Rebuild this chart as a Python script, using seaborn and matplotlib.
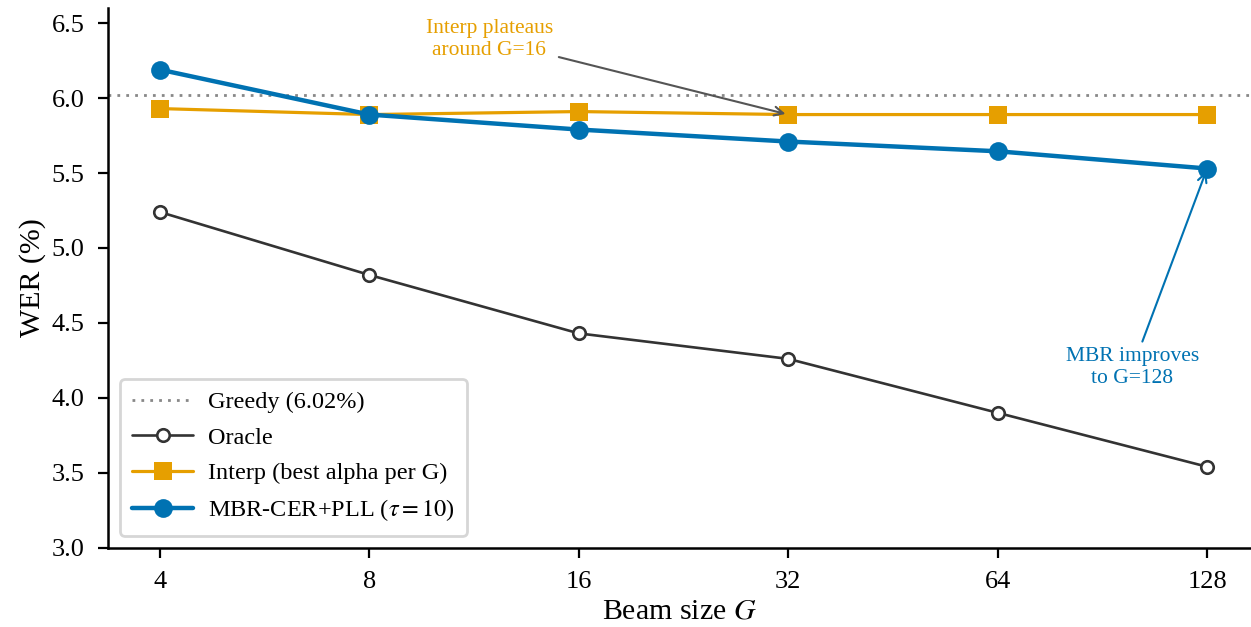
import numpy as np
import pandas as pd
import matplotlib
matplotlib.use("Agg")
import matplotlib.pyplot as plt
import seaborn as sns

# values
beam = [4, 8, 16, 32, 64, 128]
oracle = [5.24, 4.82, 4.43, 4.26, 3.90, 3.54]
interp = [5.93, 5.89, 5.91, 5.89, 5.89, 5.89]
mbr = [6.19, 5.89, 5.79, 5.71, 5.645, 5.53]
greedy = 6.02

sns.set_theme(style="ticks")
plt.rcParams['font.family'] = ['Liberation Serif', 'DejaVu Serif']
plt.rcParams['mathtext.fontset'] = 'stix'
# plain black text and axes like the original
for k in ['text.color', 'axes.labelcolor', 'xtick.color', 'ytick.color', 'axes.edgecolor']:
    plt.rcParams[k] = 'black'

c_oracle = '#333333'
c_interp = '#E69F00'
c_mbr = '#0072B2'

df = pd.DataFrame({'G': beam, 'oracle': oracle, 'interp': interp, 'mbr': mbr})

fig, ax = plt.subplots(figsize=(12.51, 6.27), dpi=100)

ax.axhline(greedy, color='#888888', ls=(0, (1, 2.2)), lw=2.0, label='Greedy (6.02%)')
sns.lineplot(data=df, x='G', y='oracle', ax=ax, color=c_oracle, lw=1.9, marker='o',
             markersize=9, markerfacecolor='white', markeredgecolor=c_oracle,
             markeredgewidth=1.9, label='Oracle')
sns.lineplot(data=df, x='G', y='interp', ax=ax, color=c_interp, lw=2.3, marker='s',
             markersize=13, markeredgewidth=0, label='Interp (best alpha per G)')
sns.lineplot(data=df, x='G', y='mbr', ax=ax, color=c_mbr, lw=3.2, marker='o',
             markersize=13.5, markeredgewidth=0, label=r'MBR-CER+PLL ($\tau=10$)')

ax.set_xscale('log', base=2)
ax.set_xticks(beam)
ax.set_xticklabels([str(b) for b in beam])
ax.minorticks_off()
ax.set_xlim(3.37, 148)
ax.set_ylim(3.0, 6.60)
ax.set_yticks(np.arange(3.0, 6.51, 0.5))
ax.set_yticklabels([f'{v:.1f}' for v in np.arange(3.0, 6.51, 0.5)])

ax.set_xlabel('Beam size $G$', fontsize=21.5, labelpad=4)
ax.set_ylabel('WER (%)', fontsize=21.5, labelpad=4)
ax.tick_params(labelsize=19, length=7.5, width=1.6, direction='out', pad=9.5)
for s in ['left', 'bottom']:
    ax.spines[s].set_linewidth(1.8)
sns.despine(ax=ax)

ax.annotate('Interp plateaus\naround G=16', xy=(32, 5.89), xytext=(11.9, 6.39),
            ha='center', va='center', fontsize=15.5, color=c_interp,
            arrowprops=dict(arrowstyle='->', color='#555555', lw=1.5, mutation_scale=16))
ax.annotate('MBR improves\nto G=128', xy=(128, 5.53), xytext=(100, 4.2),
            ha='center', va='center', fontsize=15.5, color=c_mbr,
            arrowprops=dict(arrowstyle='->', color=c_mbr, lw=1.5, mutation_scale=16))

leg = ax.legend(loc='lower left', fontsize=17.5, frameon=True, fancybox=True,
                borderpad=0.5, handlelength=2.5, labelspacing=0.55, handletextpad=0.6)
leg.get_frame().set_edgecolor('#cccccc')
leg.get_frame().set_linewidth(2.0)

fig.subplots_adjust(left=0.0863, right=1.0, top=0.987, bottom=0.1265)
fig.savefig('out.png', dpi=100)
